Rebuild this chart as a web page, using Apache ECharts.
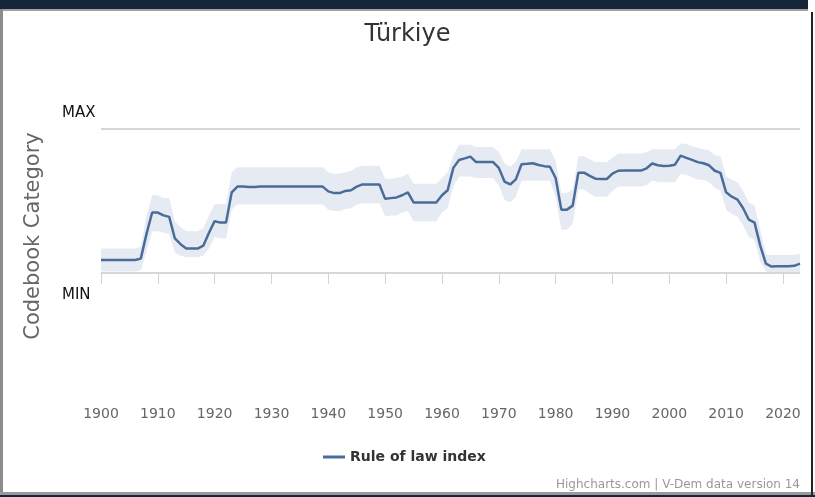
<!DOCTYPE html>
<html>
<head>
<meta charset="utf-8">
<script src="https://cdn.jsdelivr.net/npm/echarts@6/dist/echarts.min.js"></script>
<style>
  html, body { margin: 0; padding: 0; background: #ffffff; }
  #wrap { position: relative; width: 815px; height: 497px; overflow: hidden; background: #fff; }
  #chart { position: absolute; left: 0; top: 0; width: 815px; height: 497px; }
  .f { position: absolute; pointer-events: none; }
</style>
</head>
<body>
<div id="wrap">
  <div id="chart"></div>
  <div class="f" style="left:0;top:0;width:808px;height:9px;background:#17253b;"></div>
  <div class="f" style="left:0;top:9px;width:808px;height:2px;background:#a0a0a0;"></div>
  <div class="f" style="left:0;top:9px;width:3px;height:486px;background:#8c8c8c;"></div>
  <div class="f" style="left:0;top:492px;width:815px;height:3px;background:#9a9a9a;"></div>
  <div class="f" style="left:0;top:495px;width:815px;height:2px;background:#17253b;"></div>
  <div class="f" style="left:811px;top:12px;width:2px;height:483px;background:#222;"></div>
</div>
<script>
// ---- Data ----
var startYear = 1900;
var endYear = 2023;
var xTicks = [1900, 1910, 1920, 1930, 1940, 1950, 1960, 1970, 1980, 1990, 2000, 2010, 2020];
var refLevels = { MAX: 1, MIN: 0 };

// Rule of law index, 1900..2023
var ruleOfLaw = [
  0.09, 0.09, 0.09, 0.09, 0.09, 0.09, 0.09, 0.10, 0.27, 0.42,   // 1900-1909
  0.42, 0.40, 0.39, 0.24, 0.20, 0.17, 0.17, 0.17, 0.19, 0.28,   // 1910-1919
  0.36, 0.35, 0.35, 0.56, 0.60, 0.60, 0.597, 0.597, 0.60, 0.60, // 1920-1929
  0.60, 0.60, 0.60, 0.60, 0.60, 0.60, 0.60, 0.60, 0.60, 0.60,   // 1930-1939
  0.567, 0.555, 0.555, 0.57, 0.575, 0.60, 0.615, 0.615, 0.615, 0.615, // 1940-1949
  0.515, 0.52, 0.525, 0.54, 0.56, 0.49, 0.49, 0.49, 0.49, 0.49, // 1950-1959
  0.54, 0.575, 0.73, 0.785, 0.796, 0.808, 0.77, 0.77, 0.77, 0.77, // 1960-1969
  0.73, 0.635, 0.615, 0.65, 0.755, 0.758, 0.762, 0.75, 0.742, 0.738, // 1970-1979
  0.66, 0.44, 0.44, 0.468, 0.697, 0.697, 0.675, 0.655, 0.653, 0.653, // 1980-1989
  0.69, 0.71, 0.711, 0.711, 0.711, 0.711, 0.727, 0.76, 0.748, 0.743, // 1990-1999
  0.745, 0.752, 0.815, 0.80, 0.785, 0.77, 0.762, 0.748, 0.71, 0.695, // 2000-2009
  0.56, 0.53, 0.51, 0.45, 0.37, 0.35, 0.19, 0.065, 0.045, 0.047,  // 2010-2019
  0.047, 0.047, 0.05, 0.065                                       // 2020-2023
];

// Confidence band, upper bound
var bandUpper = [
  0.17, 0.17, 0.17, 0.17, 0.17, 0.17, 0.17, 0.18, 0.40, 0.54,
  0.54, 0.52, 0.52, 0.36, 0.32, 0.29, 0.29, 0.29, 0.31, 0.40,
  0.48, 0.48, 0.48, 0.70, 0.735, 0.735, 0.735, 0.735, 0.735, 0.735,
  0.735, 0.735, 0.735, 0.735, 0.735, 0.735, 0.735, 0.735, 0.735, 0.735,
  0.70, 0.69, 0.69, 0.70, 0.71, 0.735, 0.745, 0.745, 0.745, 0.745,
  0.655, 0.655, 0.66, 0.67, 0.69, 0.62, 0.62, 0.62, 0.62, 0.62,
  0.66, 0.70, 0.82, 0.89, 0.89, 0.89, 0.875, 0.875, 0.875, 0.875,
  0.84, 0.76, 0.74, 0.77, 0.86, 0.86, 0.86, 0.86, 0.86, 0.86,
  0.78, 0.555, 0.555, 0.58, 0.81, 0.81, 0.79, 0.77, 0.77, 0.77,
  0.80, 0.83, 0.83, 0.83, 0.83, 0.83, 0.84, 0.86, 0.86, 0.86,
  0.86, 0.86, 0.90, 0.895, 0.88, 0.87, 0.86, 0.85, 0.82, 0.81,
  0.67, 0.65, 0.63, 0.57, 0.49, 0.47, 0.30, 0.13, 0.125, 0.125,
  0.125, 0.125, 0.125, 0.135
];

// Confidence band, lower bound
var bandLower = [
  0.01, 0.01, 0.01, 0.01, 0.01, 0.01, 0.01, 0.02, 0.15, 0.29,
  0.29, 0.28, 0.27, 0.14, 0.12, 0.11, 0.11, 0.11, 0.12, 0.17,
  0.25, 0.24, 0.24, 0.44, 0.475, 0.475, 0.475, 0.475, 0.475, 0.475,
  0.475, 0.475, 0.475, 0.475, 0.475, 0.475, 0.475, 0.475, 0.475, 0.475,
  0.44, 0.43, 0.43, 0.445, 0.45, 0.475, 0.485, 0.485, 0.485, 0.485,
  0.395, 0.40, 0.40, 0.42, 0.43, 0.36, 0.36, 0.36, 0.36, 0.36,
  0.42, 0.45, 0.60, 0.67, 0.67, 0.67, 0.66, 0.66, 0.66, 0.66,
  0.61, 0.51, 0.49, 0.53, 0.64, 0.64, 0.64, 0.64, 0.64, 0.64,
  0.53, 0.30, 0.30, 0.34, 0.58, 0.58, 0.55, 0.53, 0.53, 0.53,
  0.57, 0.60, 0.60, 0.60, 0.60, 0.60, 0.61, 0.64, 0.63, 0.63,
  0.63, 0.63, 0.69, 0.68, 0.665, 0.65, 0.645, 0.63, 0.59, 0.575,
  0.44, 0.41, 0.39, 0.33, 0.25, 0.23, 0.08, 0.01, 0.005, 0.005,
  0.005, 0.005, 0.005, 0.005
];

// ---- Build series data ----
var years = [];
for (var y = startYear; y <= endYear; y++) years.push(String(y));
var diffData = bandUpper.map(function (u, i) { return +(u - bandLower[i]).toFixed(4); });
function isTick(val) { return xTicks.indexOf(Number(val)) >= 0; }

var FONT = 'DejaVu Sans';
var chart = echarts.init(document.getElementById('chart'), null, { renderer: 'canvas' });
chart.setOption({
  animation: false,
  backgroundColor: '#ffffff',
  textStyle: { fontFamily: FONT },
  title: {
    text: 'Türkiye',
    left: 'center',
    top: 18,
    textStyle: { fontFamily: FONT, fontSize: 24, fontWeight: 'normal', color: '#333333' }
  },
  legend: {
    data: [{ name: 'Rule of law index', icon: 'rect' }],
    bottom: 28,
    left: 318,
    itemWidth: 22,
    itemHeight: 3,
    itemGap: 8,
    textStyle: { fontFamily: FONT, fontSize: 14, fontWeight: 'bold', color: '#333333' }
  },
  grid: { left: 101, right: 15, top: 77, bottom: 102, containLabel: false },
  xAxis: {
    type: 'category',
    data: years,
    boundaryGap: false,
    axisLine: { show: true, lineStyle: { color: '#d3d3d3', width: 1 } },
    axisTick: {
      show: true, length: 11, lineStyle: { color: '#d3d3d3' },
      interval: function (idx, val) { return isTick(val); }
    },
    splitLine: { show: false },
    axisLabel: {
      color: '#666666', fontSize: 14, fontFamily: FONT, margin: 12,
      interval: function (idx, val) { return isTick(val); }
    }
  },
  yAxis: {
    type: 'value',
    min: -0.847,
    max: 1.361,
    name: 'Codebook Category',
    nameLocation: 'middle',
    nameGap: 57,
    nameTextStyle: { fontFamily: FONT, fontSize: 21, color: '#666666' },
    axisLine: { show: false },
    axisTick: { show: false },
    axisLabel: { show: false },
    splitLine: { show: false }
  },
  series: [
    {
      name: 'bandLower',
      type: 'line',
      data: bandLower,
      stack: 'band',
      symbol: 'none',
      lineStyle: { width: 0, opacity: 0 },
      silent: true,
      z: 1
    },
    {
      name: 'bandRange',
      type: 'line',
      data: diffData,
      stack: 'band',
      symbol: 'none',
      lineStyle: { width: 0, opacity: 0 },
      areaStyle: { color: '#e6ebf3', opacity: 1 },
      silent: true,
      z: 1
    },
    {
      name: 'Rule of law index',
      type: 'line',
      data: ruleOfLaw,
      symbol: 'none',
      color: '#4a6c99',
      lineStyle: { color: '#4a6c99', width: 2.5 },
      z: 3,
      markLine: {
        silent: true,
        symbol: ['none', 'none'],
        lineStyle: { color: '#d6d6d6', width: 2, type: 'solid' },
        label: { show: true, fontFamily: FONT, fontSize: 15, color: '#111111' },
        data: [
          { yAxis: refLevels.MAX, label: { formatter: 'MAX', position: 'insideStartTop', distance: 0, offset: [-39, -8] } },
          { yAxis: refLevels.MIN, label: { formatter: 'MIN', position: 'insideStartBottom', distance: 0, offset: [-39, 15] } }
        ]
      }
    }
  ],
  graphic: [
    {
      type: 'text',
      right: 15,
      bottom: 6,
      style: { text: 'Highcharts.com | V-Dem data version 14', fontFamily: FONT, fontSize: 12, fill: '#999999' }
    }
  ]
});
</script>
</body>
</html>
